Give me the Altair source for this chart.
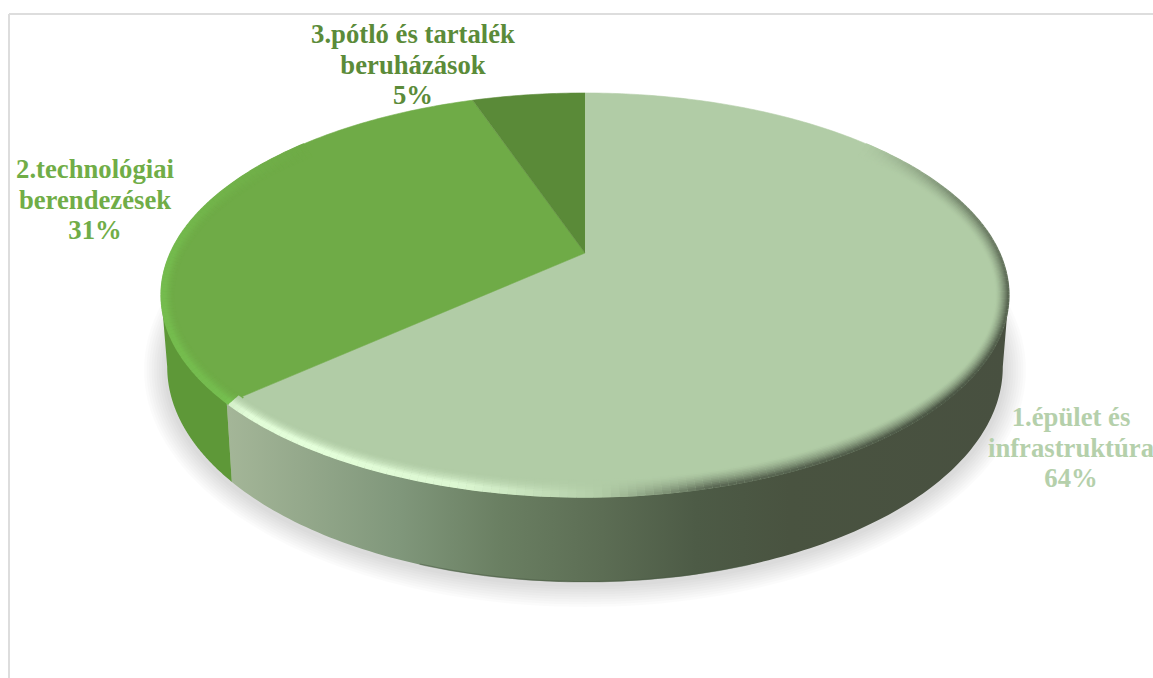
import altair as alt
import numpy as np
import pandas as pd

# Slice data
categories = ["1.épület és infrastruktúra", "2.technológiai berendezések", "3.pótló és tartalék beruházások"]
shares = [64, 31, 5]
face_colors = ["#B1CCA6", "#6FAB47", "#5A8A38"]
label_colors = ["#B5D0AB", "#70AD47", "#5B8B39"]
label_lines = [["1.épület és", "infrastruktúra"], ["2.technológiai", "berendezések"], ["3.pótló és tartalék", "beruházások"]]

W, H = 1153, 678
APEX_X, APEX_Y = 585, 253      # where the slices meet, in page pixels
R = 425.0                      # one data unit on both axes

# Perspective of the tilted disc
K = 0.208
A, D = 414.5, 193.3
TWIST = np.radians(3.0)
RIM_CY, RIM_A, RIM_B = -42.0, 425.0, 202.0      # outline of the top face, apex-relative
BASE_CY, BASE_A, BASE_B = -114.0, 419.0, 215.0  # outline of the bottom edge


def rim(theta_deg):
    t = np.radians(np.asarray(theta_deg, dtype=float))
    t = t + TWIST * np.sin(t)
    u, v = np.sin(t), np.cos(t)
    den = 1 + K * v
    return A * u / den, D * v / den


def base(theta_deg):
    x, y = rim(theta_deg)
    return x * BASE_A / RIM_A, BASE_CY + (y - RIM_CY) * BASE_B / RIM_B


def inset(theta_deg, f):
    x, y = rim(theta_deg)
    return x * (1 - 0.030 * f), RIM_CY + (y - RIM_CY) * (1 - 0.085 * f)


X_SCALE = alt.Scale(domain=[-APEX_X / R, (W - APEX_X) / R], range=[0, W])
Y_SCALE = alt.Scale(domain=[(APEX_Y - H) / R, APEX_Y / R], range=[H, 0])


def polygon(xs, ys, **mark):
    df = pd.DataFrame({"x": np.asarray(xs) / R, "y": np.asarray(ys) / R, "i": np.arange(len(xs))})
    return alt.Chart(df).mark_line(**mark).encode(
        x=alt.X("x:Q", scale=X_SCALE, axis=None),
        y=alt.Y("y:Q", scale=Y_SCALE, axis=None),
        order="i:Q",
    )


# Cumulative slice boundaries, clockwise from twelve o'clock
edges = np.concatenate([[0], np.cumsum(shares)]) * 3.6
layers = []

# Soft shadow under the disc
ring = np.linspace(0, 360, 181)
for e in np.linspace(22, 2, 9):
    t = np.radians(ring)
    layers.append(polygon((BASE_A + e) * np.sin(t), BASE_CY - 3 + (BASE_B + e) * np.cos(t),
                          fill="#000000", fillOpacity=0.014, strokeOpacity=0))

# Side wall
sweep = np.linspace(0, 360, 1441)
sweep_x = rim(sweep)[0]
right_end = sweep[np.argmax(sweep_x)]
left_end = sweep[np.argmin(sweep_x)]


def wall(t1, t2, **mark):
    arc = np.linspace(t1, t2, 140)
    x1, y1 = rim(arc)
    x2, y2 = base(arc[::-1])
    return polygon(np.concatenate([x1, x2]), np.concatenate([y1, y2]), strokeOpacity=0, **mark)


wall_stops = [(0.0, "#A4B698"), (0.22, "#80977B"), (0.35, "#6A7F62"), (0.48, "#5C6D54"),
              (0.60, "#4D5B46"), (0.72, "#495340"), (1.0, "#485040")]
layers.append(wall(right_end, edges[1], fill=alt.Gradient(
    gradient="linear", x1=0, x2=1, y1=0, y2=0,
    stops=[alt.GradientStop(offset=o, color=c) for o, c in wall_stops])))
layers.append(wall(edges[1], left_end, fill="#5E9838"))

# Thin darker line along the lower edge of the wall
edge_arc = np.linspace(160, 200, 50)
ex, ey = base(edge_arc)
layers.append(polygon(ex, ey + 0.4, stroke="#4A5A44", strokeWidth=1.4, strokeOpacity=0.5))

# Top faces
for i, color in enumerate(face_colors):
    arc = np.linspace(edges[i], edges[i + 1], max(8, int(shares[i] * 5)))
    x, y = rim(arc)
    layers.append(polygon(np.concatenate([[0], x]), np.concatenate([[0], y]),
                          fill=color, stroke=color, strokeWidth=0.6))

# Bevel around the front of the top face: dark on the right, bright at the lower left
shade_at = [48, 70, 100, 130, 165, 178, 195, 215, 226, 232, 270, 292, 312]
shade_val = [0, -0.55, -0.85, -1, -0.85, 0, 0.85, 1, 0.95, 0.55, 0.5, 0.25, 0]
seam_x, seam_y = rim(edges[1])


def mix(c1, c2, f):
    a = np.array([int(c1[j:j + 2], 16) for j in (1, 3, 5)], dtype=float)
    b = np.array([int(c2[j:j + 2], 16) for j in (1, 3, 5)], dtype=float)
    m = a + (b - a) * f
    return "#%02x%02x%02x" % tuple(int(round(q)) for q in m)


rows = []
steps = np.arange(48, 312, 1.0)
for f in np.linspace(0.05, 0.96, 11):
    for th in steps:
        s = np.interp(th + 0.5, shade_at, shade_val)
        x1, y1 = inset(th, 1 - f)
        x2, y2 = inset(th + 1, 1 - f)
        # A segment belongs to the slice on its side of the line from the apex to the seam
        mx, my = (x1 + x2) / 2, (y1 + y2) / 2
        slice1 = mx >= 0 or my < mx * seam_y / seam_x
        face = face_colors[0] if slice1 else face_colors[1]
        if s >= 0:
            lit = "#E4FFDA" if slice1 else "#7ACB55"
            col = mix(face, lit, s * min(f / 0.75, 1) ** 1.8)
        else:
            col = mix(face, "#465040", -s * f ** 1.5)
        rows.append({"x": x1 / R, "y": y1 / R, "x2": x2 / R, "y2": y2 / R, "c": col})
bevel = alt.Chart(pd.DataFrame(rows)).mark_rule(strokeWidth=2.6, strokeCap="butt").encode(
    x=alt.X("x:Q", scale=X_SCALE, axis=None),
    y=alt.Y("y:Q", scale=Y_SCALE, axis=None),
    x2="x2:Q",
    y2="y2:Q",
    color=alt.Color("c:N", scale=None),
)
layers.append(bevel)

# Frame on the top and left
layers.append(alt.Chart(pd.DataFrame({"a": [0]})).mark_rule(color="#DDDDDD", strokeWidth=2).encode(
    x=alt.value(9), x2=alt.value(W), y=alt.value(14)))
layers.append(alt.Chart(pd.DataFrame({"a": [0]})).mark_rule(color="#DDDDDD", strokeWidth=2).encode(
    x=alt.value(9), y=alt.value(14), y2=alt.value(H)))

# Slice labels: name lines followed by the share
label_px_x = [1071, 95, 413]
label_px_y = [418, 170, 35]
label_step = 30.5
text_rows = []
for i, lines in enumerate(label_lines):
    for j, line in enumerate(lines + [f"{shares[i]}%"]):
        text_rows.append({"x": (label_px_x[i] - APEX_X) / R,
                          "y": (APEX_Y - label_px_y[i] - j * label_step) / R,
                          "t": line, "c": label_colors[i]})
layers.append(alt.Chart(pd.DataFrame(text_rows)).mark_text(
    font="Liberation Serif", fontWeight="bold", fontSize=26.7, align="center", baseline="middle"
).encode(
    x=alt.X("x:Q", scale=X_SCALE, axis=None),
    y=alt.Y("y:Q", scale=Y_SCALE, axis=None),
    text="t:N",
    color=alt.Color("c:N", scale=None),
))

chart = alt.layer(*layers).properties(
    width=W, height=H, padding=0, autosize=alt.AutoSizeParams(type="none"), background="white"
).configure_view(stroke=None)

chart.save("out.html", embed_options={"renderer": "svg", "actions": False})
